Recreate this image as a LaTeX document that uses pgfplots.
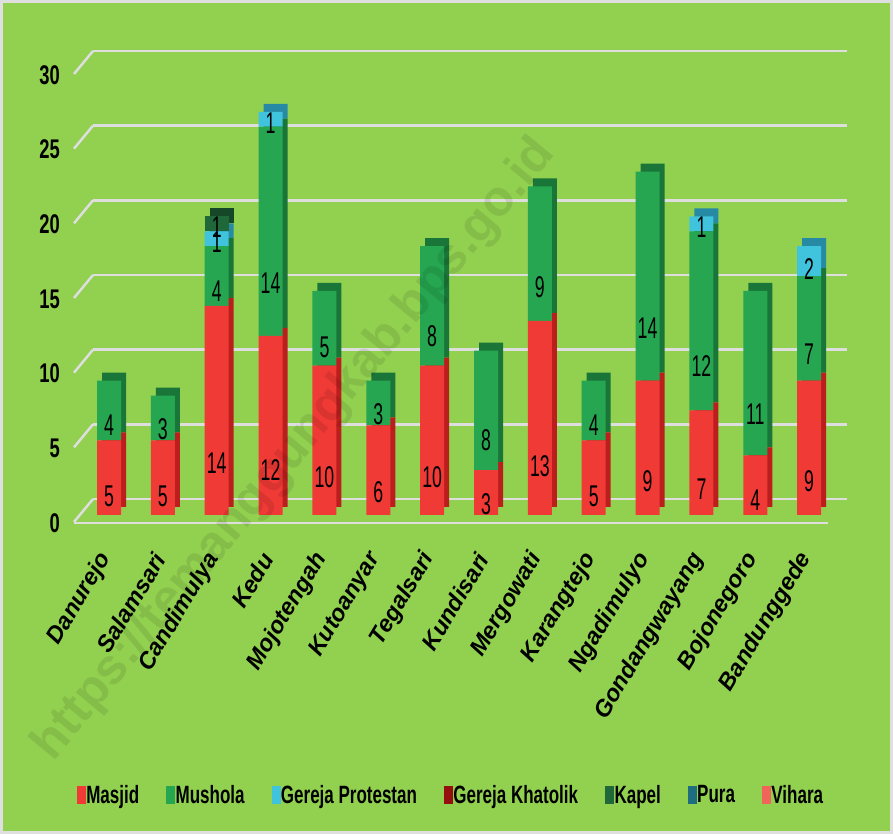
\documentclass[border=0pt]{standalone}
\usepackage{pgfplots}
\usepackage{pgfplotstable}
\pgfplotsset{compat=1.18}
\usepackage{fontspec}
\setmainfont{Liberation Sans}
\newfontfamily\narrowfont[FakeStretch=0.68]{Liberation Sans}
\newfontfamily\lblfont[FakeStretch=0.59]{Liberation Sans}
\definecolor{bg}{RGB}{146,208,80}
\definecolor{masjid}{RGB}{240,58,54}
\definecolor{masjidD}{RGB}{188,30,30}
\definecolor{mushola}{RGB}{38,166,80}
\definecolor{musholaD}{RGB}{26,118,56}
\definecolor{protestan}{RGB}{64,196,222}
\definecolor{protestanD}{RGB}{38,138,165}
\definecolor{kapel}{RGB}{32,104,58}
\definecolor{kapelD}{RGB}{20,72,38}
\definecolor{khatolik}{RGB}{150,15,15}
\definecolor{pura}{RGB}{30,110,128}
\definecolor{vihara}{RGB}{240,100,90}
\definecolor{gridc}{RGB}{222,222,222}

\pgfplotstableread{
x masjid mushola protestan kapel
0 5 4 0 0
1 5 3 0 0
2 14 4 1 1
3 12 14 1 0
4 10 5 0 0
5 6 3 0 0
6 10 8 0 0
7 3 8 0 0
8 13 9 0 0
9 5 4 0 0
10 9 14 0 0
11 7 12 1 0
12 4 11 0 0
13 9 7 2 0
}\datatable

\pgfplotsset{
  base/.style={scale only axis, width=754pt, height=448pt,
    xmin=-0.65, xmax=13.35, ymin=0, ymax=30,
    /pgf/number format/assume math mode=true},
  barbase/.style={base, hide axis, ybar stacked, bar width=24pt},
  legimg/.style={legend image code/.code={\fill[#1] (0pt,-8.5pt) rectangle (8pt,8.5pt);}},
  lbl/.style={draw=none, fill=#1,
    nodes near coords={\pgfmathfloatifflags{\pgfplotspointmeta}{0}{}{\pgfmathprintnumber{\pgfplotspointmeta}}},
    point meta=explicit,
    visualization depends on={rawy \as \rawy},
    every node near coord/.append style={anchor=center, yshift=-3.7333pt*\rawy,
      font=\lblfont\fontsize{30}{32}\selectfont, text=black, inner sep=0pt}},
}

\begin{document}
\begin{tikzpicture}
\fill[bg] (0,0) rectangle (893pt,834pt);
\draw[gray!25, line width=3pt] (1.5pt,1.5pt) rectangle (891.5pt,832.5pt);
\useasboundingbox (0,0) rectangle (893pt,834pt);

% axis A: grid, tick labels, legend
\begin{axis}[base, at={(74pt,319pt)}, anchor=south west, clip=false,
  axis line style={draw=none}, major tick length=0pt,
  ytick={0,5,...,30},
  yticklabel style={font=\narrowfont\bfseries\fontsize{27}{30}\selectfont, inner sep=0pt, xshift=-14pt, yshift=-8pt},
  xtick={0,...,13},
  xticklabels={Danurejo,Salamsari,Candimulya,Kedu,Mojotengah,Kutoanyar,Tegalsari,Kundisari,Mergowati,Karangtejo,Ngadimulyo,Gondangwayang,Bojonegoro,Bandunggede},
  xticklabel style={xshift=-3pt, yshift=-40pt, rotate=59, anchor=east, inner sep=0pt,
    font=\bfseries\itshape\fontsize{23.5}{28}\selectfont},
  legend columns=7,
  legend style={at={(rel axis cs:0.500,-0.625)}, anchor=center, draw=none, fill=none,
    font=\narrowfont\bfseries\fontsize{25}{28}\selectfont,
    /tikz/every even column/.append style={column sep=25pt},
    /tikz/every odd column/.append style={column sep=-1pt}},
]
\pgfplotsinvokeforeach{0,5,10,15,20,25,30}{
  \draw[gridc, line width=2.5pt] ([xshift=19pt,yshift=16pt]axis cs:-0.65,#1) -- ([xshift=19pt,yshift=16pt]axis cs:13.35,#1);
  \draw[gridc, line width=2.5pt] ([yshift=-7pt]axis cs:-0.65,#1) -- ([xshift=19pt,yshift=16pt]axis cs:-0.65,#1);
}
\draw[gridc, line width=2.5pt] ([yshift=-8pt]axis cs:-0.65,0) -- ([yshift=-8pt]axis cs:13.35,0);
\addlegendimage{legimg=masjid}\addlegendentry{Masjid}
\addlegendimage{legimg=mushola}\addlegendentry{Mushola}
\addlegendimage{legimg=protestan}\addlegendentry{Gereja Protestan}
\addlegendimage{legimg=khatolik}\addlegendentry{Gereja Khatolik}
\addlegendimage{legimg=kapel}\addlegendentry{Kapel}
\addlegendimage{legimg=pura}\addlegendentry{Pura}
\addlegendimage{legimg=vihara}\addlegendentry{Vihara}
\end{axis}

% axis B: depth (side and top faces)
\begin{axis}[barbase, at={(79pt,327pt)}, anchor=south west]
\addplot[draw=none, fill=masjidD] table[x=x, y=masjid]{\datatable};
\addplot[draw=none, fill=musholaD] table[x=x, y=mushola]{\datatable};
\addplot[draw=none, fill=protestanD] table[x=x, y=protestan]{\datatable};
\addplot[draw=none, fill=kapelD] table[x=x, y=kapel]{\datatable};
\end{axis}

% axis C: front faces and values
\begin{axis}[barbase, at={(74pt,319pt)}, anchor=south west]
\addplot[lbl=masjid] table[x=x, y=masjid, meta=masjid]{\datatable};
\addplot[lbl=mushola] table[x=x, y=mushola, meta=mushola]{\datatable};
\addplot[lbl=protestan] table[x=x, y=protestan, meta=protestan]{\datatable};
\addplot[lbl=kapel] table[x=x, y=kapel, meta=kapel]{\datatable};
\end{axis}

\node[rotate=50.4, text=black, opacity=0.09, font=\bfseries\fontsize{50}{56}\selectfont]
  at (295pt,384pt) {https://temanggungkab.bps.go.id};
\end{tikzpicture}
\end{document}
